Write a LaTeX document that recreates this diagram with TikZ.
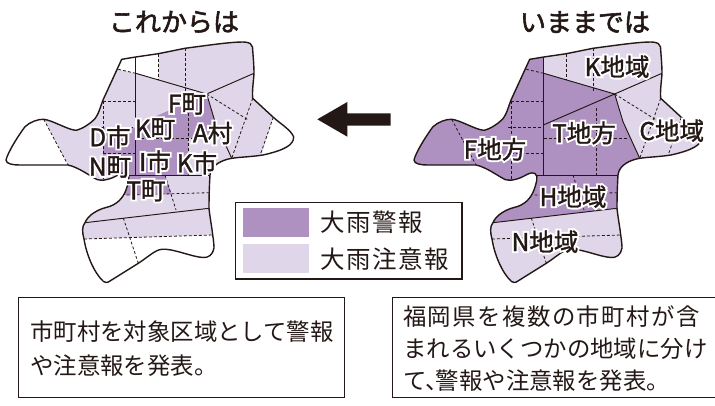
\documentclass[tikz,border=0pt]{standalone}
\usepackage{fontspec}
\setmainfont{Noto Sans CJK JP}
\newfontfamily\lblfont[FakeBold=1.3]{Noto Sans CJK JP}
\newfontfamily\titlefont[FakeBold=2.2]{Noto Sans CJK JP}
\newfontfamily\halofont[FakeBold=17]{Noto Sans CJK JP}
\newfontfamily\bodyfont{Noto Sans CJK JP}
\newfontfamily\bodyspaced[LetterSpace=6]{Noto Sans CJK JP}
\definecolor{ink}{HTML}{231815}
\definecolor{darkarea}{HTML}{AF91C1}
\definecolor{lightarea}{HTML}{DFD6E9}
\newcommand{\halo}[1]{\rlap{\halofont\color{white}#1}#1}
\def\mapoutline{(121.7,59.3) -- (135.7,57) -- (158.3,53.7) -- (185,48.3)
 .. controls (210,45) and (230,42) .. (243,42)
 .. controls (250,42.3) and (252,44) .. (252.5,47)
 .. controls (253,55) and (254,65) .. (254,73.3)
 .. controls (253.5,82) and (252,90) .. (252.7,98.3)
 -- (273.3,117.3)
 .. controls (282,125) and (291,130) .. (293.7,137)
 .. controls (293.5,145) and (285,150) .. (263,155)
 .. controls (250,157) and (240,157) .. (231.7,158.3)
 .. controls (222,160) and (211,165) .. (210,175)
 .. controls (209.3,186) and (209,198) .. (209,208.3)
 .. controls (210,218) and (212,228) .. (212.7,235)
 .. controls (213.5,240) and (214,245) .. (214,248)
 .. controls (213,255) and (208,258) .. (203,257.5)
 .. controls (192,257) and (172,248) .. (161.7,249.3)
 .. controls (155,250) and (148,257) .. (138.3,263.3)
 -- (110,281) .. controls (107,283) and (105.5,283) .. (103.5,281.5)
 .. controls (96,275) and (87,258) .. (84,239)
 .. controls (82,232) and (82,226) .. (85,222.7)
 .. controls (88,215) and (98,209.5) .. (106,207.5)
 .. controls (117,205) and (123,198) .. (126,190)
 .. controls (128,184) and (131,176) .. (127,173.5)
 .. controls (123,171) and (117,176) .. (112,178)
 .. controls (106,180) and (102,181) .. (97,179.5)
 .. controls (90,176) and (78,167) .. (68,165)
 -- (20,165) .. controls (13,165) and (6,164) .. (6,160)
 .. controls (8,152) and (18,136) .. (25,126.7)
 .. controls (30,122) and (38,119) .. (43.7,119.3)
 .. controls (52,120) and (68,130) .. (76,130.3)
 .. controls (82,129) and (90,124) .. (95.3,118.3)
 .. controls (99,113) and (100,108) .. (103,100)
 -- (121.7,59.3)}
\newcommand{\mapstructure}{%
 \draw[mapline] (135.7,57) -- (135.7,175);
 \draw[mapline] (135.7,73.3) -- (206.7,94) -- (254,73.3);
 \draw[mapline] (206.7,94) -- (215,121.7) -- (231.7,158.3);
 \draw[mapline] (128.5,175) -- (210,175);
 \draw[mapline] (85,222.7) -- (209,208.3);
 \draw[mapdash] (118.3,69.3) -- (135.7,73.3);
 \draw[mapdash] (158.3,53.7) -- (158.3,80);
 \draw[mapdash] (185,48.3) -- (185,93);
 \draw[mapdash] (188.3,108) -- (188.3,175);
 \draw[mapdash] (135.7,138) -- (220,138);
 \draw[mapdash] (103,101) -- (135.7,101);
 \draw[mapdash] (103,101) -- (103,179);
 \draw[mapdash] (100,127.7) -- (135.7,127.7);
 \draw[mapdash] (103,153) -- (135.7,153);
 \draw[mapdash] (43.7,119.3) -- (68,165);
 \draw[mapdash] (206.7,94) -- (248.3,120);
 \draw[mapdash] (252.7,98.3) -- (231.7,158.3);
 \draw[mapdash] (273.3,117.3) -- (260,155.5);
 \draw[mapdash] (165,175) -- (176,210);
 \draw[mapdash] (126.7,195) -- (209,192.7);
 \draw[mapdash] (123.3,218) -- (138.3,263.3);
 \draw[mapdash] (84,239) -- (212.7,235);
 \draw[mapoutlinestyle] \mapoutline -- cycle;
}
\tikzset{
 x=1pt,y=-1pt,
 mapline/.style={draw=ink,line width=0.95pt},
 mapdash/.style={draw=ink,line width=0.8pt,dash pattern=on 2.8pt off 2.2pt},
 mapoutlinestyle/.style={draw=ink,line width=1.4pt,line join=round},
 framebox/.style={draw=ink,line width=1.3pt},
 title/.style={text=ink,font=\titlefont\fontsize{26}{30}\selectfont,inner sep=0pt},
 lbl/.style={text=ink,font=\lblfont\fontsize{24.5}{28}\selectfont,inner sep=0pt},
 legendtext/.style={text=ink,font=\bodyspaced\fontsize{24.5}{28}\selectfont,inner sep=0pt,anchor=west},
 bodytext/.style={text=ink,inner sep=0pt,anchor=west},
}
\begin{document}
\begin{tikzpicture}
\useasboundingbox (0,0) rectangle (715,405);
% ---- left map
\fill[lightarea] \mapoutline -- cycle;
\begin{scope}
 \clip \mapoutline -- cycle;
 \fill[white] (135.7,40) -- (158.3,40) -- (158.3,80) -- (135.7,73.3) -- cycle;
 \fill[white] (118.3,69.3) -- (135.7,73.3) -- (135.7,40) -- (100,40) -- cycle;
 \fill[white] (273.3,117.3) -- (300,117) -- (300,160) -- (260,160) -- cycle;
 \fill[white] (43.7,119.3) -- (68,165) -- (0,170) -- (0,110) -- cycle;
 \fill[white] (70,239.5) -- (84,239) -- (212.7,235) -- (230,235) -- (230,300) -- (70,300) -- cycle;
 \fill[darkarea] (135.7,125) -- (206.7,94) -- (215,121.7) -- (222,138) -- (188.3,138) -- (188.3,175) -- (120,175) -- (120,195) -- (126.7,195) -- (171.7,194.3) -- (165,175) -- (103,175) -- (103,127.7) -- (135.7,127.7) -- cycle;
\end{scope}
\mapstructure
% ---- right map
\begin{scope}[xshift=408pt]
\fill[lightarea] \mapoutline -- cycle;
\begin{scope}
 \clip \mapoutline -- cycle;
 \fill[darkarea] (135.7,40) -- (135.7,73.3) -- (206.7,94) -- (215,121.7) -- (231.7,158.3) -- (225,175) -- (209.5,175) -- (209,208.3) -- (85,222.7) -- (70,222.7) -- (70,180) -- (0,180) -- (0,40) -- cycle;
\end{scope}
\draw[mapline] (135.3,125) -- (206.7,94);
\mapstructure
\end{scope}
% ---- arrow
\fill[ink] (317.3,119.3) -- (347.3,102) -- (347.3,113.3) -- (390.7,113.3) -- (390.7,125.7) -- (347.3,125.7) -- (347.3,136.7) -- cycle;
% ---- legend
\draw[framebox,line width=1.1pt] (235.3,202.7) rectangle (462,279);
\fill[darkarea] (243,208) rectangle (309,236.7);
\fill[lightarea] (243,244) rectangle (309,272.7);
\node[legendtext] (legA) at (320.5,222.5) {大雨警報};
\node[legendtext] (legB) at (320.5,259.5) {大雨注意報};
% ---- titles
\node[title] (titleL) at (174,22) {これからは};
\node[title] (titleR) at (585,22) {いままでは};
% ---- labels left
\node[lbl] (l1) at (187,104) {\halo{F町}};
\node[lbl] (l2) at (155,129) {\halo{K町}};
\node[lbl] (l3) at (212.7,133) {\halo{A村}};
\node[lbl] (l4) at (110,137) {\halo{D市}};
\node[lbl] (l5) at (110,167) {\halo{N町}};
\node[lbl] (l6) at (155,161.7) {\halo{I市}};
\node[lbl] (l7) at (197,163) {\halo{K市}};
\node[lbl] (l8) at (146,190.7) {\halo{T町}};
% ---- labels right
\node[lbl] (r1) at (617,66.7) {\halo{K地域}};
\node[lbl] (r2) at (584,133) {\halo{T地方}};
\node[lbl] (r3) at (671.7,130.7) {\halo{C地域}};
\node[lbl] (r4) at (495,149.3) {\halo{F地方}};
\node[lbl] (r5) at (573,196.7) {\halo{H地域}};
\node[lbl] (r6) at (545,241.7) {\halo{N地域}};
% ---- text boxes
\draw[framebox] (18.7,297.3) rectangle (344.7,397.3);
\node[bodytext,font=\bodyfont\fontsize{23.4}{33.3}\selectfont,align=left] (tL) at (30,348.5) {市町村を対象区域として警報\\や注意報を発表。};
\draw[framebox] (716,297.3) -- (392.7,297.3) -- (392.7,397.3) -- (716,397.3);
\node[bodytext,font=\bodyfont\fontsize{23.4}{31.7}\selectfont,align=left] (tR) at (403,348.5) {{\bodyspaced 福岡県を複数の市町村が含}\\まれるいくつかの地域に分け\\て、\kern-13pt 警報や注意報を発表。};
\end{tikzpicture}
\end{document}
